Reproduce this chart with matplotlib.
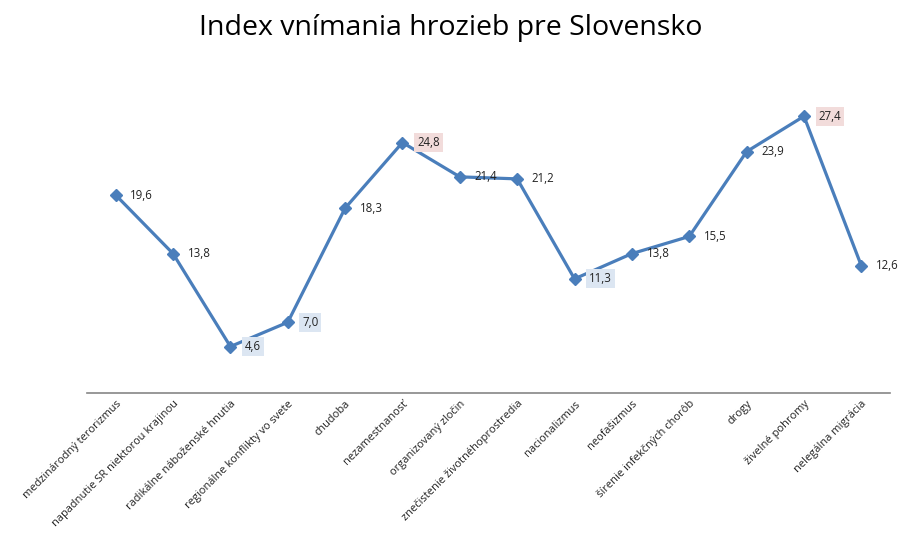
import matplotlib.pyplot as plt

categories = [
    "medzinárodný terorizmus",
    "napadnutie SR niektorou krajinou",
    "radikálne náboženské hnutia",
    "regionálne konflikty vo svete",
    "chudoba",
    "nezamestnanosť",
    "organizovaný zločin",
    "znečistenie životnéhoprostredia",
    "nacionalizmus",
    "neofašizmus",
    "šírenie infekčných chorôb",
    "drogy",
    "živelné pohromy",
    "nelegálna migrácia",
]
values = [19.6, 13.8, 4.6, 7.0, 18.3, 24.8, 21.4, 21.2, 11.3, 13.8, 15.5, 23.9, 27.4, 12.6]
low_idx = [2, 3, 8]
high_idx = [5, 12]

plt.rcParams["font.family"] = ["Open Sans", "DejaVu Sans"]

fig = plt.figure(figsize=(9.01, 5.33), dpi=100)
ax = fig.add_axes([87 / 901, 140 / 533, 803 / 901, 303 / 533])

x = list(range(len(values)))
ax.plot(x, values, color="#4a7ebb", linewidth=2.3, marker="D", markersize=6,
        markerfacecolor="#4a7ebb", markeredgecolor="#4a7ebb")

for i, v in enumerate(values):
    label = f"{v:.1f}".replace(".", ",")
    bbox = None
    if i in low_idx:
        bbox = dict(boxstyle="square,pad=0.25", facecolor="#dce6f2", edgecolor="none")
    elif i in high_idx:
        bbox = dict(boxstyle="square,pad=0.25", facecolor="#f2dcdb", edgecolor="none")
    ax.annotate(label, (i, v), xytext=(10.5, 0), textcoords="offset points",
                ha="left", va="center", fontsize=8.3, color="#222222", bbox=bbox)

ax.set_xlim(-0.5, len(values) - 0.5)
ax.set_ylim(0, 30)
ax.set_yticks([])
ax.set_xticks(x)
ax.set_xticklabels(categories, rotation=45, ha="right", rotation_mode="anchor",
                   fontsize=7.9, color="#222222")
ax.tick_params(axis="x", length=0, pad=4)
for side in ["top", "right", "left"]:
    ax.spines[side].set_visible(False)
ax.spines["bottom"].set_color("#868686")
ax.spines["bottom"].set_linewidth(1.2)

fig.text(0.5, 1 - 28 / 533, "Index vnímania hrozieb pre Slovensko",
         ha="center", va="center", fontsize=20.5, color="#000000")

fig.savefig("out.png", dpi=100)
